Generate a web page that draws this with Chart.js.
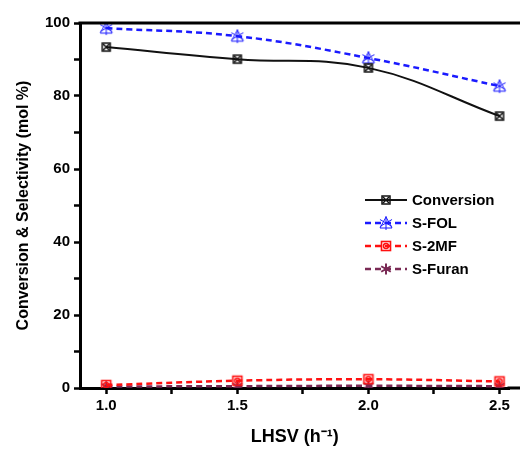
<!DOCTYPE html>
<html>
<head>
<meta charset="utf-8">
<script src="https://cdn.jsdelivr.net/npm/chart.js@4.4.0/dist/chart.umd.min.js"></script>
<style>
  html, body { margin: 0; padding: 0; background: #fff; }
</style>
</head>
<body>
<canvas id="chart" width="520" height="450"></canvas>
<script>
// data
const lhsv = [1.0, 1.5, 2.0, 2.5];
const conversion = [93.4, 90.1, 87.7, 74.5];
const sFol = [98.6, 96.4, 90.4, 82.7];
const s2mf = [0.8, 2.0, 2.4, 1.8];
const sFuran = [0.4, 0.5, 0.6, 0.5];
const seriesNames = ['Conversion', 'S-FOL', 'S-2MF', 'S-Furan'];
const xTicks = [1.0, 1.25, 1.5, 1.75, 2.0, 2.25, 2.5];
const yTicks = [0, 10, 20, 30, 40, 50, 60, 70, 80, 90, 100];

const FONT = '"Liberation Sans", Arial, sans-serif';

// small marker images
const makeMarker = (kind, color) => {
    const c = document.createElement('canvas');
    c.width = 16; c.height = 16;
    const g = c.getContext('2d');
    g.strokeStyle = color;
    g.fillStyle = color;
    const star = (r, w) => {
        g.lineWidth = w;
        g.beginPath();
        for (let k = 0; k < 3; k++) {
            const a = Math.PI / 2 + k * Math.PI / 3;
            g.moveTo(8 + r * Math.cos(a), 8 + r * Math.sin(a));
            g.lineTo(8 - r * Math.cos(a), 8 - r * Math.sin(a));
        }
        g.stroke();
    };
    if (kind === 'conv') {
        g.lineWidth = 1.5;
        g.strokeRect(4, 4, 8, 8);
        g.beginPath();
        g.moveTo(5, 5); g.lineTo(11, 11);
        g.moveTo(11, 5); g.lineTo(5, 11);
        g.stroke();
    } else if (kind === 'fol') {
        star(7, 1);
        g.beginPath();
        g.moveTo(8, 2); g.lineTo(14, 13); g.lineTo(2, 13); g.closePath();
        g.stroke();
    } else if (kind === '2mf') {
        g.lineWidth = 1.6;
        g.strokeRect(3.5, 3.5, 9, 9);
        g.beginPath();
        g.arc(8, 8, 2.5, 0, Math.PI * 2);
        g.stroke();
    } else {
        star(5.5, 2);
        g.beginPath();
        g.arc(8, 8, 2, 0, Math.PI * 2);
        g.fill();
    }
    return c;
};

const markers = [
    makeMarker('conv', '#111'),
    makeMarker('fol', '#1a1aff'),
    makeMarker('2mf', '#ff1010'),
    makeMarker('furan', '#7a2a55')
];

const toPoints = arr => arr.map((v, i) => ({ x: lhsv[i], y: v }));

// legend inside the plot + top frame line
const framePlugin = {
    id: 'frame',
    afterDraw(chart) {
        const { ctx, chartArea } = chart;
        ctx.save();
        ctx.strokeStyle = '#000';
        ctx.lineWidth = 3;
        ctx.beginPath();
        ctx.moveTo(chartArea.left - 1.5, chartArea.top);
        ctx.lineTo(chart.width, chartArea.top);
        ctx.moveTo(chartArea.right - 2, chartArea.bottom);
        ctx.lineTo(chart.width, chartArea.bottom);
        ctx.stroke();

        chart.data.datasets.forEach((ds, i) => {
            const y = 200 + i * 23;
            ctx.strokeStyle = ds.borderColor;
            ctx.lineWidth = ds.borderWidth;
            ctx.setLineDash(ds.borderDash || []);
            ctx.beginPath();
            ctx.moveTo(365, y);
            ctx.lineTo(407, y);
            ctx.stroke();
            ctx.setLineDash([]);
            ctx.drawImage(markers[i], 386 - 8, y - 8);
            ctx.fillStyle = '#000';
            ctx.font = 'bold 15px ' + FONT;
            ctx.textBaseline = 'middle';
            ctx.fillText(ds.label, 412, y + 1);
        });
        ctx.restore();
    }
};

const lineSet = (label, data, color, width, dash, marker) => ({
    label: label,
    data: toPoints(data),
    borderColor: color,
    borderWidth: width,
    borderDash: dash,
    tension: 0.4,
    pointStyle: marker,
    pointRadius: 8,
    fill: false
});

new Chart(document.getElementById('chart'), {
    type: 'line',
    data: {
        datasets: [
            lineSet(seriesNames[3], sFuran, '#7a2a55', 2.5, [6, 4], markers[3]),
            lineSet(seriesNames[2], s2mf, '#ff1010', 2.5, [6, 4], markers[2]),
            lineSet(seriesNames[1], sFol, '#1a1aff', 2.5, [6, 4], markers[1]),
            lineSet(seriesNames[0], conversion, '#111', 2, [], markers[0])
        ].reverse()
    },
    options: {
        responsive: false,
        animation: false,
        layout: { padding: { top: 23, right: 0, left: 0, bottom: 0 } },
        plugins: {
            legend: { display: false },
            tooltip: { enabled: false }
        },
        scales: {
            x: {
                type: 'linear',
                min: 0.9,
                max: 2.538,
                afterBuildTicks: scale => { scale.ticks = xTicks.map(v => ({ value: v })); },
                afterFit: scale => { scale.height = 62; },
                border: { color: '#000', width: 3 },
                grid: { drawOnChartArea: false, tickLength: 6, tickWidth: 2.5, tickColor: '#000' },
                ticks: {
                    color: '#000',
                    padding: 3,
                    autoSkip: false,
                    maxRotation: 0,
                    font: { family: FONT, size: 15, weight: 'bold' },
                    callback: v => (Math.abs(v * 2 - Math.round(v * 2)) < 1e-6 ? v.toFixed(1) : '')
                },
                title: {
                    display: true,
                    text: 'LHSV (h\u207B\u00B9)',
                    color: '#000',
                    font: { family: FONT, size: 18, weight: 'bold' },
                    padding: { top: 0, bottom: 2 }
                }
            },
            y: {
                min: 0,
                max: 100,
                afterBuildTicks: scale => { scale.ticks = yTicks.map(v => ({ value: v })); },
                afterFit: scale => { scale.width = 80; },
                border: { color: '#000', width: 3 },
                grid: { drawOnChartArea: false, tickLength: 6, tickWidth: 2.5, tickColor: '#000' },
                ticks: {
                    color: '#000',
                    padding: 4,
                    autoSkip: false,
                    font: { family: FONT, size: 15, weight: 'bold' },
                    callback: v => (v % 20 === 0 ? v : '')
                },
                title: {
                    display: true,
                    text: 'Conversion & Selectivity (mol %)',
                    color: '#000',
                    font: { family: FONT, size: 16, weight: 'bold' },
                    padding: { top: 14, bottom: 0 }
                }
            }
        }
    },
    plugins: [framePlugin]
});
</script>
</body>
</html>
